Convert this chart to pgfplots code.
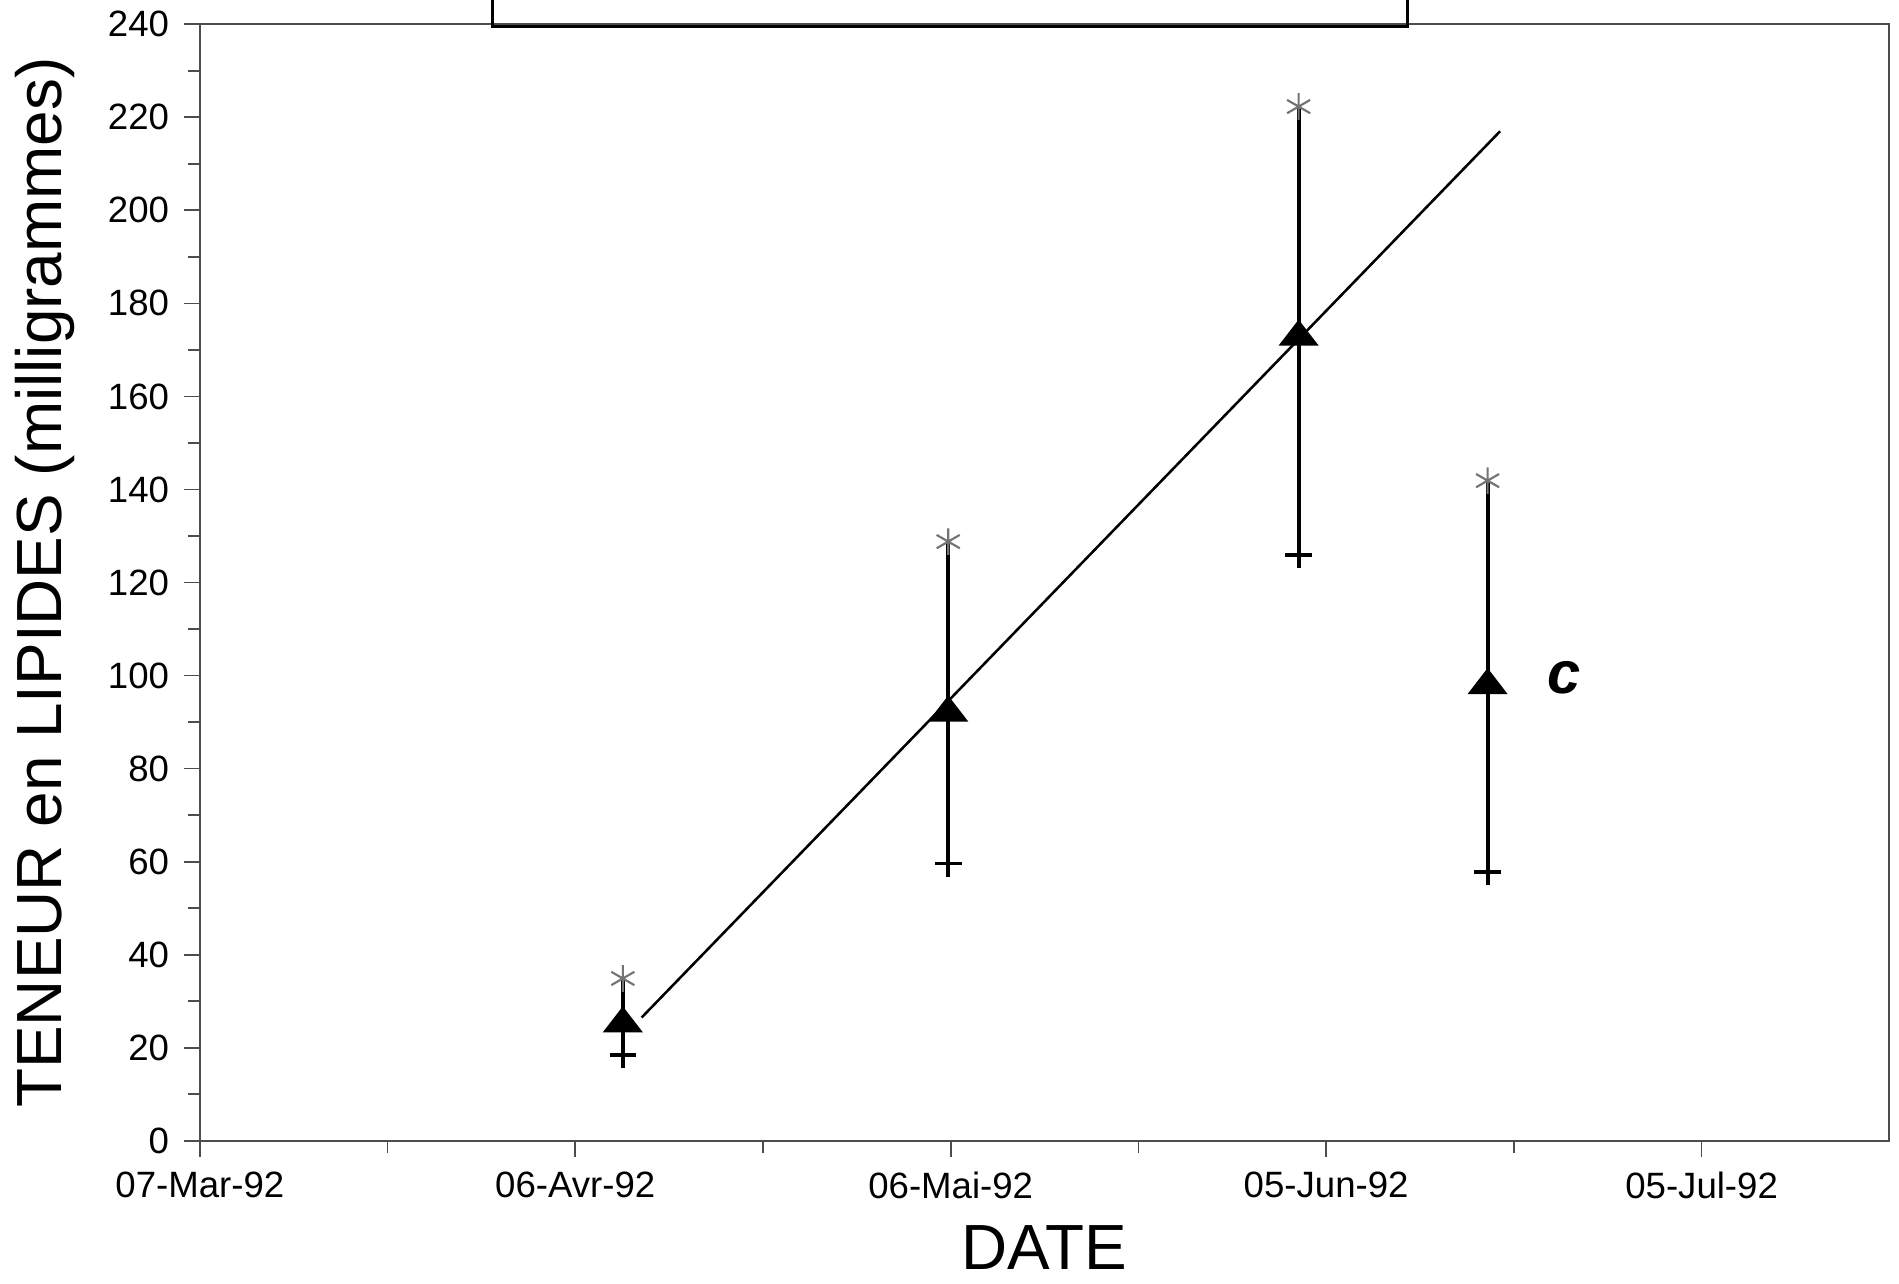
\documentclass[border=0pt]{standalone}
\usepackage{pgfplots}
\pgfplotsset{compat=1.18}
\usepackage{fontspec}
\setmainfont{Liberation Sans}
\begin{document}
\begin{tikzpicture}
\begin{axis}[
 scale only axis, width=139.5mm, height=92.2mm,
 xmin=0, xmax=135, ymin=0, ymax=240,
 clip=false,
 axis line style={black!70, line width=0.5pt},
 xtick={0,30,60,90,120},
 xticklabels={07-Mar-92,06-Avr-92,06-Mai-92,05-Jun-92,05-Jul-92},
 minor xtick={15,45,75,105},
 ytick={0,20,...,240},
 minor ytick={10,30,...,230},
 tick align=outside, tick pos=left,
 major tick length=1.3mm, minor tick length=1mm,
 tick style={black!70, line width=0.4pt},
 ticklabel style={font=\fontsize{8.6}{10}\selectfont},
 /pgf/number format/assume math mode=true,
 every axis y label/.style={at={(axis description cs:0,0.5)}, rotate=90, anchor=center, yshift=12.8mm},
 every axis x label/.style={at={(axis description cs:0.5,0)}, anchor=center, yshift=-8.8mm},
 xlabel={\fontsize{15}{18}\selectfont DATE},
 ylabel={\fontsize{15}{18}\selectfont TENEUR en LIPIDES (milligrammes)},
]
\coordinate (O) at (rel axis cs:0,0);
% regression line
\addplot[black, line width=0.6pt, mark=none] coordinates {(35.3,26.5) (103.9,217)};
% vertical ranges
\addplot[black, line width=0.9pt, mark=none] coordinates {(33.8,34.9) (33.8,18.5)};
\addplot[black, line width=0.9pt, mark=none] coordinates {(59.8,128.8) (59.8,59.6)};
\addplot[black, line width=0.9pt, mark=none] coordinates {(87.8,222.3) (87.8,126)};
\addplot[black, line width=0.9pt, mark=none] coordinates {(102.9,141.9) (102.9,57.8)};
% means
\addplot[only marks, mark=triangle*, mark size=1.75mm, black, mark options={yscale=0.75, fill=black}]
 coordinates {(33.8,25.2) (59.8,92) (87.8,172.8) (102.9,97.9)};
% maxima
\addplot[only marks, mark=asterisk, mark size=1.1mm, black!55, mark options={line width=0.5pt}]
 coordinates {(33.8,34.9) (59.8,128.8) (87.8,222.3) (102.9,141.9)};
% minima
\addplot[only marks, mark=+, mark size=1.1mm, black, mark options={line width=0.9pt}]
 coordinates {(33.8,18.5) (59.8,59.6) (87.8,126) (102.9,57.8)};
\node[font=\fontsize{14}{16}\selectfont\bfseries\itshape] at (axis cs:109,99.5) {c};
\draw[black, line width=0.7pt] (axis cs:23.4,245.3) -- (axis cs:23.4,239.6) -- (axis cs:96.5,239.6) -- (axis cs:96.5,245.3);
\end{axis}
\pgfresetboundingbox
\path[use as bounding box] (O) ++(-16.5mm,-11.8mm) rectangle ++(156.8mm,106mm);
\end{tikzpicture}
\end{document}
